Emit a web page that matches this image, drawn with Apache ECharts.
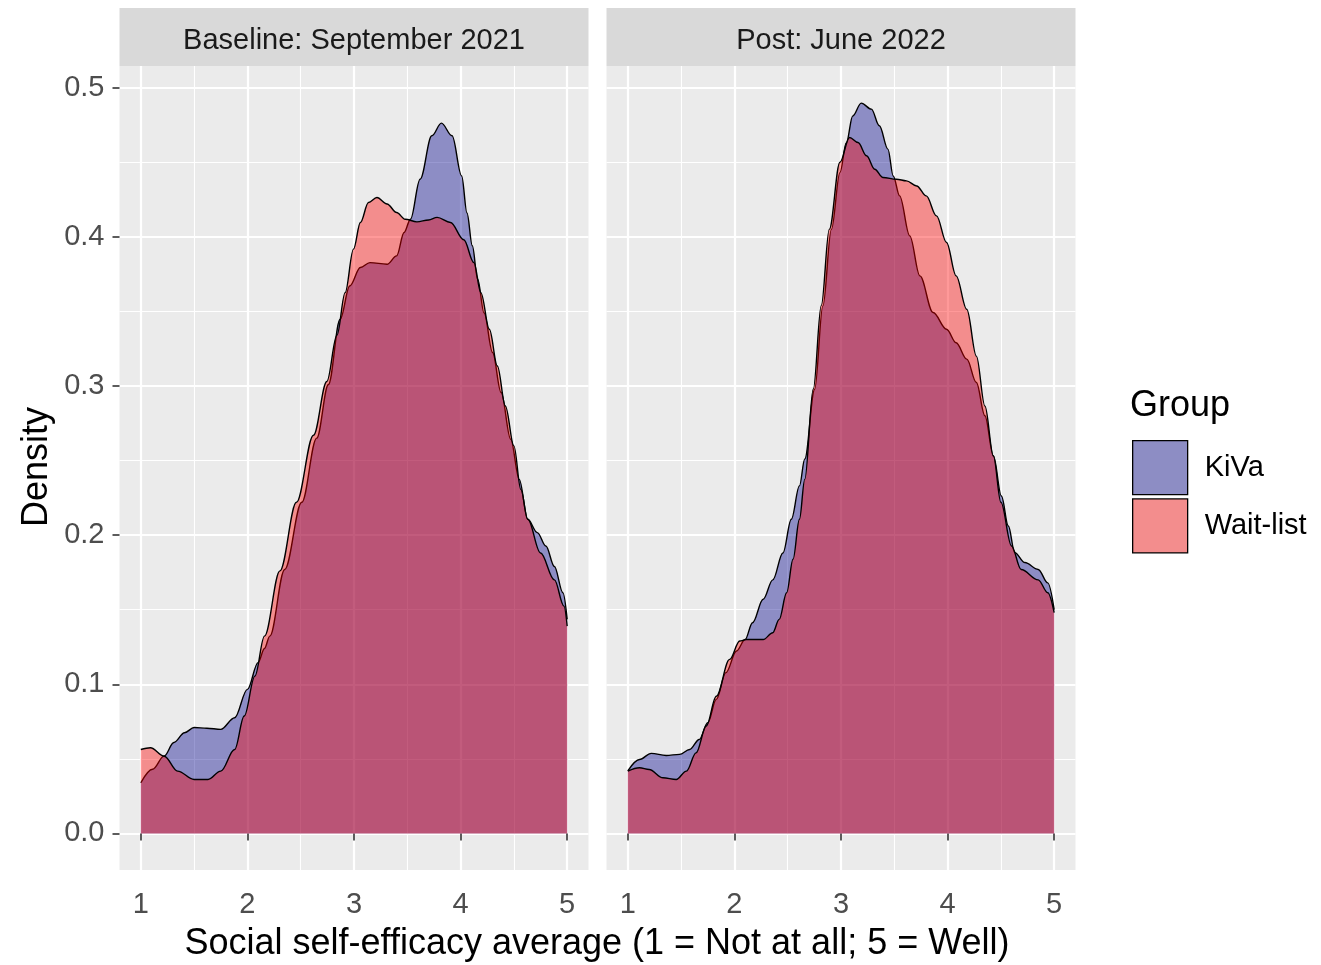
<!DOCTYPE html>
<html>
<head>
<meta charset="utf-8">
<script src="https://cdn.jsdelivr.net/npm/echarts@6/dist/echarts.min.js"></script>
<style>html,body{margin:0;padding:0;background:#fff}#c{width:1321px;height:965px}</style>
</head>
<body>
<div id="c"></div>
<script>
// ---- data ----
const panels = ['Baseline: September 2021', 'Post: June 2022'];
const groups = ['KiVa', 'Wait-list'];
const xTicks = [1, 2, 3, 4, 5];
const xMinor = [1.5, 2.5, 3.5, 4.5];
const yTicks = [0, 0.1, 0.2, 0.3, 0.4, 0.5];
const yMinor = [0.05, 0.15, 0.25, 0.35, 0.45];

const baselineKiva = [
  [1.00,0.034],[1.11,0.043],[1.22,0.052],[1.31,0.061],[1.41,0.0675],[1.50,0.071],[1.62,0.0705],
  [1.75,0.0698],[1.88,0.0776],[2.00,0.0966],[2.10,0.1145],[2.16,0.124],[2.21,0.1323],[2.35,0.177],
  [2.51,0.222],[2.65,0.265],[2.76,0.301],[2.87,0.3447],[2.96,0.367],[3.06,0.3794],[3.15,0.3827],
  [3.31,0.3816],[3.40,0.3872],[3.47,0.4029],[3.53,0.4118],[3.62,0.4386],[3.73,0.4677],[3.82,0.4762],
  [3.92,0.4677],[4.01,0.4408],[4.06,0.416],[4.11,0.394],[4.16,0.3716],[4.22,0.349],[4.30,0.3224],
  [4.38,0.2956],[4.47,0.2643],[4.55,0.2374],[4.63,0.2106],[4.72,0.2017],[4.80,0.1927],[4.88,0.179],
  [4.96,0.1614],[5.00,0.1435]
];
const baselineWait = [
  [1.00,0.0563],[1.09,0.0575],[1.22,0.0518],[1.345,0.0418],[1.50,0.0362],[1.63,0.0362],[1.75,0.0418],
  [1.88,0.0563],[1.97,0.0787],[2.07,0.1055],[2.16,0.1323],[2.305,0.176],[2.46,0.222],[2.62,0.267],
  [2.745,0.303],[2.84,0.334],[2.917,0.3626],[2.995,0.3917],[3.06,0.4096],[3.136,0.423],[3.215,0.4263],
  [3.31,0.422],[3.40,0.4163],[3.48,0.4118],[3.59,0.41],[3.70,0.4113],[3.78,0.413],[3.905,0.4096],
  [4.03,0.398],[4.125,0.3827],[4.19,0.3626],[4.27,0.338],[4.345,0.3134],[4.42,0.2866],[4.50,0.2598],
  [4.565,0.2307],[4.63,0.2106],[4.75,0.188],[4.88,0.170],[4.97,0.1524],[5.00,0.139]
];
const postKiva = [
  [1.00,0.042],[1.11,0.0496],[1.22,0.0537],[1.36,0.0523],[1.485,0.053],[1.58,0.0563],[1.67,0.063],
  [1.75,0.0742],[1.83,0.0899],[1.92,0.1078],[2.02,0.1223],[2.10,0.130],[2.17,0.1413],[2.27,0.157],
  [2.36,0.170],[2.455,0.188],[2.534,0.2106],[2.61,0.233],[2.66,0.251],[2.753,0.2978],[2.83,0.3537],
  [2.91,0.405],[2.99,0.443],[3.05,0.463],[3.11,0.481],[3.19,0.4896],[3.285,0.4856],[3.36,0.4744],
  [3.44,0.4588],[3.49,0.4408],[3.55,0.4274],[3.645,0.4006],[3.74,0.3738],[3.864,0.3492],[3.99,0.338],
  [4.08,0.329],[4.18,0.318],[4.27,0.3023],[4.35,0.280],[4.43,0.253],[4.505,0.2262],[4.57,0.2061],
  [4.63,0.1883],[4.725,0.1816],[4.85,0.177],[4.94,0.168],[5.00,0.150]
];
const postWait = [
  [1.00,0.0418],[1.11,0.044],[1.20,0.0429],[1.33,0.0373],[1.454,0.0362],[1.55,0.0418],[1.64,0.054],
  [1.736,0.072],[1.83,0.092],[1.955,0.1167],[2.05,0.129],[2.11,0.130],[2.27,0.130],[2.36,0.1346],
  [2.42,0.1435],[2.49,0.1614],[2.55,0.1838],[2.61,0.2106],[2.66,0.2374],[2.74,0.298],[2.815,0.354],
  [2.89,0.405],[2.99,0.45],[3.08,0.4666],[3.16,0.4632],[3.24,0.4543],[3.316,0.4453],[3.394,0.4398],
  [3.52,0.4386],[3.614,0.4375],[3.71,0.4341],[3.80,0.4274],[3.896,0.414],[3.99,0.3962],[4.08,0.3738],
  [4.18,0.3514],[4.27,0.320],[4.35,0.2866],[4.43,0.253],[4.50,0.222],[4.60,0.1927],[4.69,0.177],
  [4.85,0.170],[4.94,0.1614],[5.00,0.148]
];

// ---- styling ----
const FONT = '"Liberation Sans", Arial, Helvetica, sans-serif';
const fills = {'KiVa': 'rgba(0,0,139,0.4)', 'Wait-list': 'rgba(255,0,0,0.4)'};
const keyFills = {'KiVa': '#8D8DC4', 'Wait-list': '#F38D8D'};
const X_MIN = 0.8, X_MAX = 5.2, Y_MIN = -0.0245, Y_MAX = 0.5145;
const gridLefts = [119.5, 606.5];
const GRID_TOP = 66, GRID_H = 804, GRID_W = 469;

const grids = gridLefts.map(l => ({
  left: l, top: GRID_TOP, width: GRID_W, height: GRID_H,
  show: true, backgroundColor: '#EBEBEB', borderWidth: 0, containLabel: false
}));

function mainX(gi) {
  return {
    type: 'value', gridIndex: gi, min: X_MIN, max: X_MAX, position: 'bottom',
    axisLine: {show: false},
    axisTick: {show: true, customValues: xTicks, length: 7, lineStyle: {color: '#333333', width: 1.6}},
    axisLabel: {customValues: xTicks, margin: 20, fontSize: 29, color: '#4D4D4D', fontFamily: FONT,
      formatter: v => String(v)},
    splitLine: {show: true, lineStyle: {color: '#FFFFFF', width: 2.2}}
  };
}
function minorX(gi) {
  return {
    type: 'value', gridIndex: gi, min: X_MIN, max: X_MAX, position: 'top',
    axisLine: {show: false},
    axisTick: {show: false, customValues: xMinor},
    axisLabel: {show: false, customValues: xMinor},
    splitLine: {show: true, lineStyle: {color: '#FFFFFF', width: 1.1}}
  };
}
function mainY(gi, labels) {
  return {
    type: 'value', gridIndex: gi, min: Y_MIN, max: Y_MAX, position: 'left',
    axisLine: {show: false},
    axisTick: {show: labels, customValues: yTicks, length: 7, lineStyle: {color: '#333333', width: 1.6}},
    axisLabel: {show: labels, customValues: yTicks, margin: 15, fontSize: 29, color: '#4D4D4D', fontFamily: FONT,
      formatter: v => v.toFixed(1)},
    splitLine: {show: true, lineStyle: {color: '#FFFFFF', width: 2.2}}
  };
}
function minorY(gi) {
  return {
    type: 'value', gridIndex: gi, min: Y_MIN, max: Y_MAX, position: 'right',
    axisLine: {show: false},
    axisTick: {show: false, customValues: yMinor},
    axisLabel: {show: false, customValues: yMinor},
    splitLine: {show: true, lineStyle: {color: '#FFFFFF', width: 1.1}}
  };
}

function dens(name, data, gi) {
  return {
    type: 'line', name: name, data: data, xAxisIndex: gi, yAxisIndex: gi,
    smooth: 0.35, smoothMonotone: 'x', symbol: 'none', showSymbol: false,
    z: name === 'KiVa' ? 2 : 3, silent: true,
    itemStyle: {color: fills[name]},
    lineStyle: {color: '#000000', width: 1.4},
    areaStyle: {color: fills[name], opacity: 1, origin: 0},
    emphasis: {disabled: true}
  };
}

const graphics = [];
gridLefts.forEach((l, i) => {
  graphics.push({type: 'rect', shape: {x: l, y: 8, width: GRID_W, height: 58}, style: {fill: '#D9D9D9'}, silent: true});
  graphics.push({type: 'text', x: l + GRID_W / 2, y: 41, silent: true,
    style: {text: panels[i], font: '29px ' + FONT, fill: '#1A1A1A', textAlign: 'center', textVerticalAlign: 'middle'}});
});
graphics.push({type: 'text', x: 37, y: 467, rotation: Math.PI / 2, silent: true,
  style: {text: 'Density', font: '36px ' + FONT, fill: '#000000', textAlign: 'center', textVerticalAlign: 'middle'}});
graphics.push({type: 'text', x: 597, y: 944, silent: true,
  style: {text: 'Social self-efficacy average (1 = Not at all; 5 = Well)', font: '36px ' + FONT, fill: '#000000', textAlign: 'center', textVerticalAlign: 'middle'}});
graphics.push({type: 'text', x: 1130, y: 406, silent: true,
  style: {text: 'Group', font: '36px ' + FONT, fill: '#000000', textAlign: 'left', textVerticalAlign: 'middle'}});

const option = {
  animation: false,
  backgroundColor: '#FFFFFF',
  grid: grids,
  xAxis: [mainX(0), mainX(1), minorX(0), minorX(1)],
  yAxis: [mainY(0, true), mainY(1, false), minorY(0), minorY(1)],
  legend: {
    orient: 'vertical', left: 1127, top: 435, itemWidth: 55, itemHeight: 54, itemGap: 3,
    icon: 'rect', selectedMode: false,
    data: groups.map(g => ({name: g, icon: 'rect', itemStyle: {color: keyFills[g], borderColor: '#000000', borderWidth: 1.3}})),
    textStyle: {fontSize: 29, color: '#000000', fontFamily: FONT, padding: [7, 0, 0, 12]}
  },
  graphic: graphics,
  series: [
    dens('KiVa', baselineKiva, 0),
    dens('Wait-list', baselineWait, 0),
    dens('KiVa', postKiva, 1),
    dens('Wait-list', postWait, 1)
  ]
};

const chart = echarts.init(document.getElementById('c'), null, {renderer: 'canvas'});
chart.setOption(option);
</script>
</body>
</html>
